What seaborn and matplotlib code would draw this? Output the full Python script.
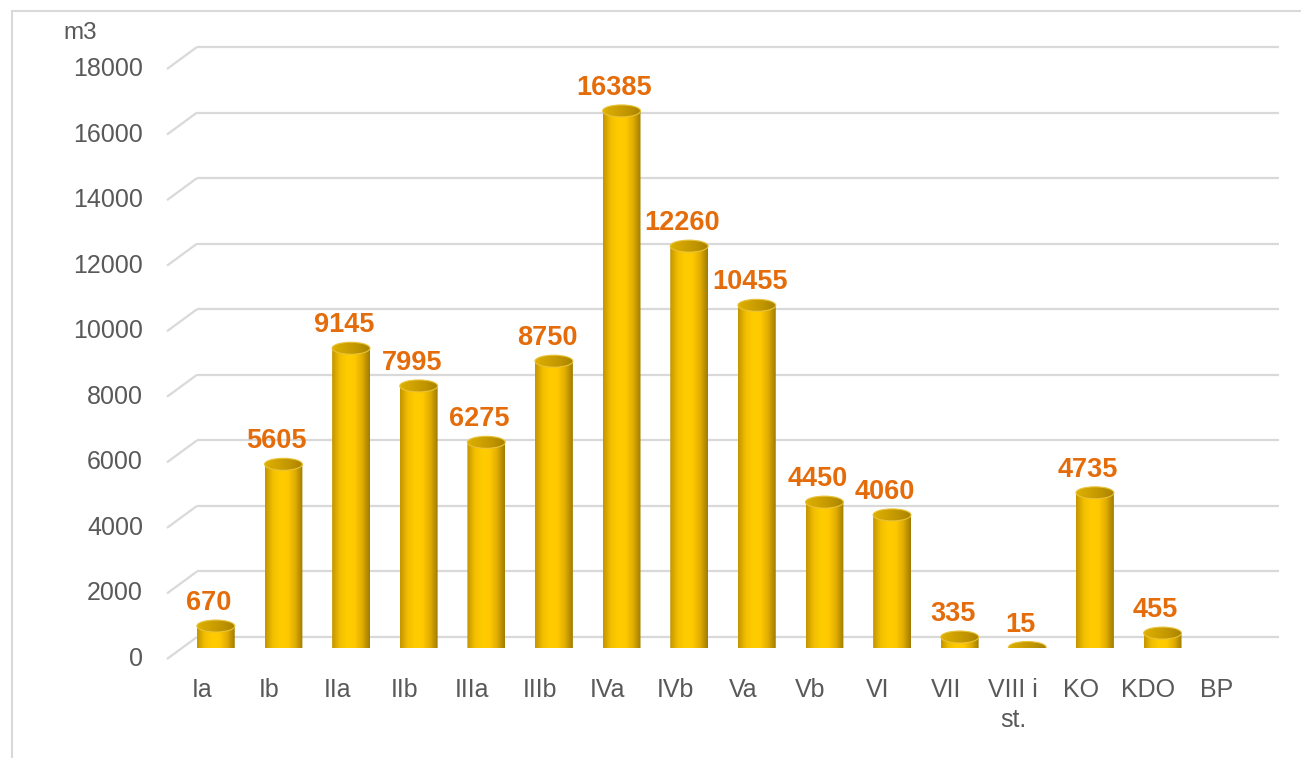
import numpy as np
import matplotlib
matplotlib.use("Agg")
import matplotlib.pyplot as plt
from matplotlib.patches import Ellipse, Polygon, Rectangle
from matplotlib.colors import LinearSegmentedColormap
import seaborn as sns

# data
categories = ["Ia", "Ib", "IIa", "IIb", "IIIa", "IIIb", "IVa", "IVb", "Va", "Vb",
              "VI", "VII", "VIII i\nst.", "KO", "KDO", "BP"]
volumes = [670, 5605, 9145, 7995, 6275, 8750, 16385, 12260, 10455, 4450,
           4060, 335, 15, 4735, 455, np.nan]
y_ticks = [0, 2000, 4000, 6000, 8000, 10000, 12000, 14000, 16000, 18000]
unit_label = "m3"

W, H = 1301, 758
# plot box (middle depth of the 3d floor), pixels
px_left, px_right = 182, 1264
px_base, px_top = 648, 58
y_max = 18000
n = len(categories)

sns.set_theme(style="white")
plt.rcParams["font.family"] = ["Liberation Sans", "DejaVu Sans"]

fig = plt.figure(figsize=(W / 100, H / 100), dpi=100)
ax = fig.add_axes([px_left / W, (H - px_base) / H,
                   (px_right - px_left) / W, (px_base - px_top) / H])

# pixel -> data unit helpers
ux = n / (px_right - px_left)
uy = y_max / (px_base - px_top)
dx, dy = 15 * ux, 11 * uy

grid_c = "#D9D9D9"
text_c = "#595959"
label_c = "#E46C0A"

# 3d walls: diagonal + back gridlines
for v in y_ticks:
    ax.plot([-0.5 - dx, -0.5 + dx], [v - dy, v + dy], color=grid_c, lw=1.6,
            zorder=0, clip_on=False, solid_capstyle="butt")
    ax.plot([-0.5 + dx, n - 0.5 + dx], [v + dy, v + dy], color=grid_c,
            lw=1.6, zorder=0, clip_on=False, solid_capstyle="butt")
    ax.text(-0.5 - dx - 24 * ux, v - dy, f"{v}", ha="right", va="center",
            fontsize=18, color=text_c)

ax.text(-0.5 - dx - 104 * ux, y_max + dy + 14 * uy, unit_label, ha="left",
        va="center", fontsize=17.5, color=text_c)

sns.barplot(x=categories, y=volumes, color="#FFC800", width=0.56, ax=ax,
            saturation=1, errorbar=None)

body_cmap = LinearSegmentedColormap.from_list(
    "body", ["#C29400", "#F2BE00", "#FFCC00", "#FFC900", "#E0AC00", "#9E7A00"])
top_cmap = LinearSegmentedColormap.from_list(
    "top", ["#DDB000", "#CFA200", "#C09500", "#A88200"])
grad = np.linspace(0, 1, 256).reshape(1, -1)
eh = 12 * uy

for i, p in enumerate(ax.patches):
    h = p.get_height()
    p.set_visible(False)
    if not np.isfinite(h):
        continue
    x0, w = p.get_x(), p.get_width()
    xc = x0 + w / 2
    t = np.linspace(np.pi, 2 * np.pi, 60)
    arc = np.column_stack([xc + w / 2 * np.cos(t), eh / 2 * np.sin(t)])
    verts = np.vstack([[x0, h], arc, [x0 + w, h]])
    body = Polygon(verts, closed=True, facecolor="none", edgecolor="none")
    ax.add_patch(body)
    im = ax.imshow(grad, cmap=body_cmap, aspect="auto", zorder=2,
                   extent=[x0, x0 + w, -eh / 2, h], interpolation="bicubic")
    im.set_clip_path(body)
    cap = Ellipse((xc, h), w, eh, facecolor="none", edgecolor="none")
    ax.add_patch(cap)
    im2 = ax.imshow(grad, cmap=top_cmap, aspect="auto", zorder=3,
                    extent=[x0, x0 + w, h - eh / 2, h + eh / 2])
    im2.set_clip_path(cap)
    ax.add_patch(Ellipse((xc, h), w, eh, facecolor="none", edgecolor="#E9C238",
                         lw=0.8, zorder=4))
    ax.text(xc - 7 * ux, h + 23 * uy, f"{int(volumes[i])}", ha="center",
            va="center", fontsize=19.5, fontweight="bold", color=label_c,
            zorder=5)

# category labels on the front edge
for i, c in enumerate(categories):
    ax.text(i - 14 * ux, -30 * uy, c, ha="center", va="top", fontsize=18,
            color=text_c, linespacing=1.3)

ax.set_xlim(-0.5, n - 0.5)
ax.set_ylim(0, y_max)
ax.set_axis_off()

# chart area frame
fig.patches.append(Rectangle((12 / W, -0.1), 1.2, (H - 11) / H + 0.1,
                             transform=fig.transFigure, fill=False,
                             edgecolor=grid_c, lw=1.5))

fig.savefig("out.png", dpi=100)
